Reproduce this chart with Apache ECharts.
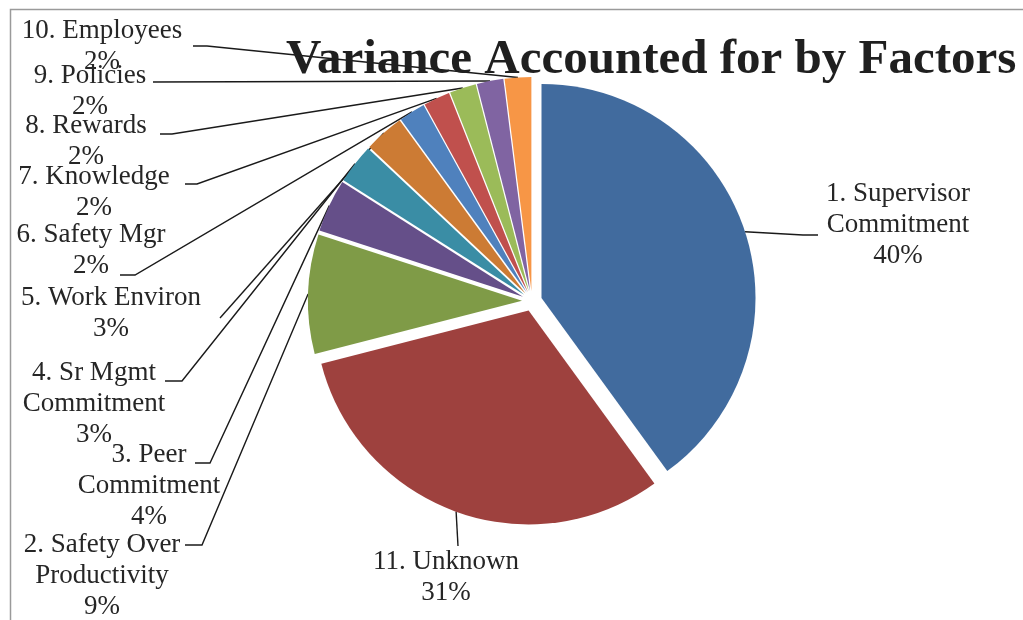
<!DOCTYPE html>
<html><head><meta charset="utf-8">
<script src="https://cdn.jsdelivr.net/npm/echarts@6/dist/echarts.min.js"></script>
<style>html,body{margin:0;padding:0;background:#fff}#chart{width:1023px;height:620px}</style>
</head><body><div id="chart"></div>
<script>
// ---- data ----
const categories = ['1. Supervisor\nCommitment', '11. Unknown', '2. Safety Over\nProductivity', '3. Peer\nCommitment', '4. Sr Mgmt\nCommitment', '5. Work Environ', '6. Safety Mgr', '7. Knowledge', '8. Rewards', '9. Policies', '10. Employees'];
const values = [40, 31, 9, 4, 3, 3, 2, 2, 2, 2, 2];
const colors = ['#416B9E', '#9E413E', '#7F9B47', '#654F89', '#3A8DA5', '#CC7B34', '#4F81BD', '#C0504D', '#9BBB59', '#8064A2', '#F79646'];
const titleText = 'Variance Accounted for by Factors';

// ---- layout ----
const CENTER = [532, 301], RADIUS = 214, EXPLODE = 10;
const FONT = 'Liberation Serif';
// label block centres and leader-line elbow/end points (layout only)
const labelBox = [
  { c: [898, 225], p1: [803, 235], p2: [818, 235] },
  { c: [446, 577], p1: [458, 546], p2: [458, 546] },
  { c: [102, 576], p1: [202, 545], p2: [185, 545] },
  { c: [149, 486], p1: [210, 463], p2: [195, 463] },
  { c: [94, 404], p1: [182, 381], p2: [165, 381] },
  { c: [111, 313], p1: [220, 318], p2: [220, 318] },
  { c: [91, 250], p1: [135, 275], p2: [120, 275] },
  { c: [94, 192], p1: [197, 184], p2: [185, 184] },
  { c: [86, 141], p1: [172, 134], p2: [160, 134] },
  { c: [90, 91], p1: [153, 82], p2: [153, 82] },
  { c: [102, 46], p1: [207, 46], p2: [193, 46] }
];

const total = values.reduce((a, b) => a + b, 0);
function arcMid(i) {
  let cum = 0;
  for (let k = 0; k < i; k++) cum += values[k];
  const th = (cum + values[i] / 2) / total * 2 * Math.PI;
  const R = RADIUS + EXPLODE;
  return [CENTER[0] + R * Math.sin(th), CENTER[1] - R * Math.cos(th)];
}

const sliceData = categories.map((n, i) => ({ name: n, value: values[i], selected: true, itemStyle: { color: colors[i] } }));
const labelData = categories.map((n, i) => ({ name: n, value: values[i] }));

const chart = echarts.init(document.getElementById('chart'), null, { renderer: 'canvas' });
chart.setOption({
  animation: false,
  backgroundColor: '#ffffff',
  title: {
    text: titleText, left: 281, top: 31,
    textStyle: { fontFamily: FONT, fontWeight: 'bold', fontSize: 49, color: '#1f1f1f' }
  },
  graphic: [{
    type: 'polyline', silent: true, z: 100,
    shape: { points: [[10.5, 640], [10.5, 9.5], [1040, 9.5]] },
    style: { stroke: '#9a9a9a', lineWidth: 1.5, fill: null }
  }],
  series: [{
    type: 'pie', silent: true,
    center: CENTER, radius: RADIUS, startAngle: 90, clockwise: true,
    selectedMode: 'multiple', selectedOffset: EXPLODE,
    label: { show: false }, labelLine: { show: false },
    itemStyle: { borderWidth: 0 },
    emphasis: { disabled: true },
    data: sliceData
  }, {
    type: 'pie', silent: true,
    center: CENTER, radius: RADIUS, startAngle: 90, clockwise: true,
    avoidLabelOverlap: false, percentPrecision: 0,
    itemStyle: { color: 'rgba(0,0,0,0)', borderWidth: 0 },
    emphasis: { disabled: true },
    label: {
      show: true, formatter: '{b}\n{d}%', fontFamily: FONT, fontSize: 27,
      lineHeight: 31, color: '#262626', align: 'center'
    },
    labelLine: { show: true, showAbove: true, lineStyle: { color: '#1a1a1a', width: 1.4 } },
    labelLayout: function (params) {
      const i = params.dataIndex;
      const b = labelBox[i];
      return {
        x: b.c[0], y: b.c[1], align: 'center', verticalAlign: 'middle',
        labelLinePoints: [arcMid(i), b.p1, b.p2]
      };
    },
    data: labelData
  }]
});
</script></body></html>
